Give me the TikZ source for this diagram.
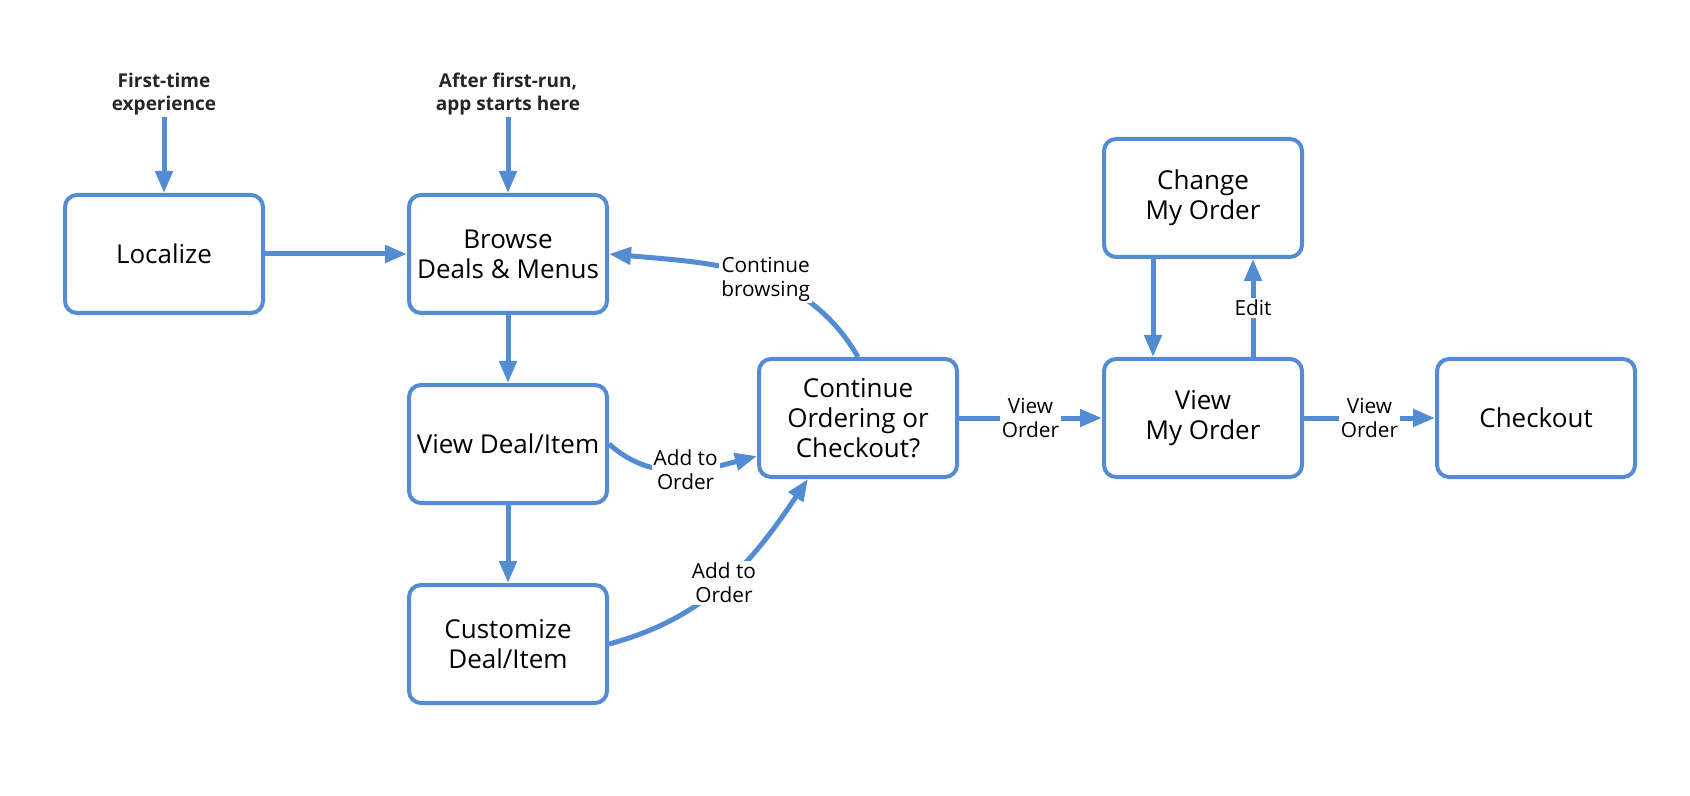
\documentclass[tikz,border=0pt]{standalone}
\usepackage{fontspec}
\setmainfont{Open Sans}
\usepackage{tikz}
\usetikzlibrary{arrows.meta}
\definecolor{flowblue}{RGB}{84,140,212}
\tikzset{
  box/.style={draw=flowblue, line width=2pt, rounded corners=6pt, minimum width=99pt, minimum height=59pt, align=center, font=\fontsize{13}{15}\selectfont},
  lbl/.style={fill=white, inner sep=1pt, align=center, font=\fontsize{10.4}{12}\selectfont},
  head/.style={inner sep=1pt, align=center, text=black!85, font=\fontsize{9.5}{11.5}\selectfont\bfseries},
  flow/.style={draw=flowblue, line width=2.5pt, ->}
}

\begin{document}
\begin{tikzpicture}[x=0.5pt, y=0.5pt, > = {Triangle[length=11pt,width=8.5pt]}]
  \useasboundingbox (0,0) rectangle (1690,-796);

        \node[head] (first) at (164,-94) {First-time\\experience};
        \node[head] (after) at (508,-94) {After first-run,\\app starts here};

        \node[box] (loc) at (164,-254) {Localize};
        \node[box] (brw) at (508,-254) {Browse\\Deals \& Menus};
        \node[box] (vdi) at (508,-444) {View Deal/Item};
        \node[box] (cus) at (508,-644) {Customize\\Deal/Item};
        \node[box] (coc) at (858,-418) {Continue\\Ordering or\\Checkout?};
        \node[box] (vmo) at (1203,-418) {View\\My Order};
        \node[box] (cmo) at (1203,-198) {Change\\My Order};
        \node[box] (chk) at (1536,-418) {Checkout};

        \path[flow] (first) -- (loc);
        \path[flow] (after) -- (brw);
        \path[flow] (loc) -- (brw);
        \path[flow] (brw) -- (vdi);
        \path[flow] (vdi) -- (cus);
        \path[flow] (coc.north) to[out=120, in=-5] node[lbl, pos=0.45]{Continue\\browsing} (brw.east);
        \path[flow] (vdi.east) to[out=-42, in=195] node[lbl, pos=0.55]{Add to\\Order} ([yshift=-19pt]coc.west);
        \path[flow] (cus.east) to[out=15, in=-124] node[lbl, pos=0.5]{Add to\\Order} ([xshift=-25pt]coc.south);
        \path[flow] (coc) -- node[lbl]{View\\Order} (vmo);
        \path[flow] (vmo) -- node[lbl]{View\\Order} (chk);
        \path[flow] ([xshift=-25pt]cmo.south) -- ([xshift=-25pt]vmo.north);
        \path[flow] ([xshift=25pt]vmo.north) -- node[lbl]{Edit} ([xshift=25pt]cmo.south);
\end{tikzpicture}
\end{document}
